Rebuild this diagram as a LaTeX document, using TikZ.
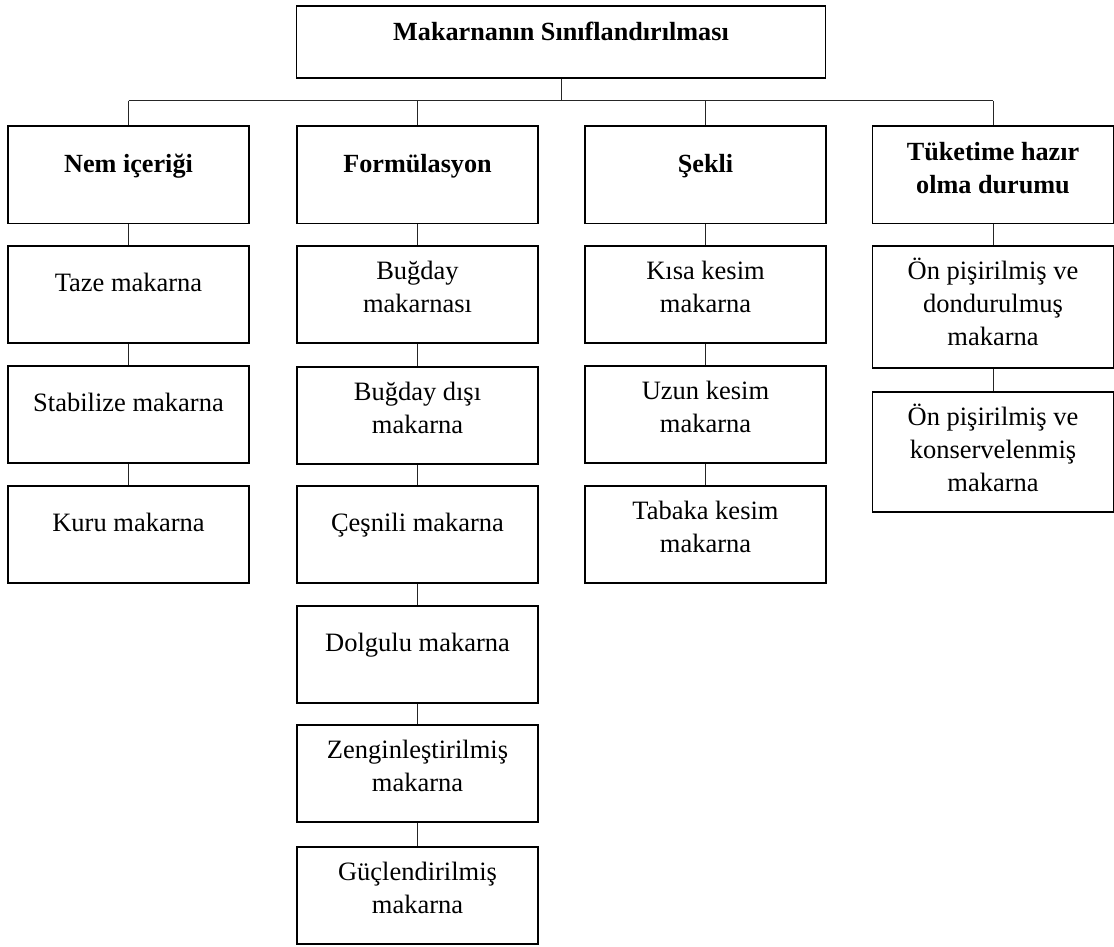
\documentclass[tikz,border=0pt]{standalone}
\usepackage{fontspec}
\setmainfont{Liberation Serif}
\usetikzlibrary{calc}
\tikzset{
  box/.style={draw, line width=1.9pt, minimum width=241pt, minimum height=97pt, inner sep=0pt, anchor=north},
  wire/.style={line width=1pt, draw=black!85},
  txt/.style={anchor=base, inner sep=0pt, font=\fontsize{26.5pt}{33.4pt}\selectfont},
  head/.style={anchor=base, inner sep=0pt, font=\fontsize{26.2pt}{33.4pt}\selectfont\bfseries},
}
% centred multi-line text whose reference point is the first baseline
\newcommand\stack[1]{\parbox[t]{236pt}{\centering #1}}

\begin{document}
\begin{tikzpicture}[x=1pt,y=-1pt]
\useasboundingbox (0,0) rectangle (1114,947);

% root
\node[box, minimum width=529pt, minimum height=72pt] (root) at (561,5) {};
\node[head] (root-t) at ($(root.north)+(0,36)$) {Makarnanın Sınıflandırılması};

% column headers
\node[box] (nem)  at (128.5,125.5) {};
\node[box] (form) at (417.5,125.5) {};
\node[box] (sek)  at (705.5,125.5) {};
\node[box] (tuk)  at (993,125.5) {};
\node[head] (nem-t)  at ($(nem.north)+(0,47)$)  {Nem içeriği};
\node[head] (form-t) at ($(form.north)+(0,47)$) {Formülasyon};
\node[head] (sek-t)  at ($(sek.north)+(0,47)$)  {Şekli};
\node[head] (tuk-t)  at ($(tuk.north)+(0,35)$)  {\stack{Tüketime hazır\\olma durumu}};

% column 1
\node[box] (taze) at (128.5,245) {};
\node[box] (stab) at (128.5,365) {};
\node[box] (kuru) at (128.5,485) {};
\node[txt] (taze-t) at ($(taze.north)+(0,46.5)$) {Taze makarna};
\node[txt] (stab-t) at ($(stab.north)+(0,46.5)$) {Stabilize makarna};
\node[txt] (kuru-t) at ($(kuru.north)+(0,46.5)$) {Kuru makarna};

% column 2
\node[box] (bug)  at (417.5,245) {};
\node[box] (bugd) at (417.5,366) {};
\node[box] (cesn) at (417.5,485) {};
\node[box] (dolg) at (417.5,605) {};
\node[box] (zeng) at (417.5,724) {};
\node[box] (gucl) at (417.5,846) {};
\node[txt] (bug-t)  at ($(bug.north)+(0,34)$)  {\stack{Buğday\\makarnası}};
\node[txt] (bugd-t) at ($(bugd.north)+(0,34)$) {\stack{Buğday dışı\\makarna}};
\node[txt] (cesn-t) at ($(cesn.north)+(0,46.5)$) {Çeşnili makarna};
\node[txt] (dolg-t) at ($(dolg.north)+(0,46.5)$) {Dolgulu makarna};
\node[txt] (zeng-t) at ($(zeng.north)+(0,34)$) {\stack{Zenginleştirilmiş\\makarna}};
\node[txt] (gucl-t) at ($(gucl.north)+(0,34)$) {\stack{Güçlendirilmiş\\makarna}};

% column 3
\node[box] (kisa)  at (705.5,245) {};
\node[box] (uzun)  at (705.5,365) {};
\node[box] (tabak) at (705.5,485) {};
\node[txt] (kisa-t)  at ($(kisa.north)+(0,34)$)  {\stack{Kısa kesim\\makarna}};
\node[txt] (uzun-t)  at ($(uzun.north)+(0,34)$)  {\stack{Uzun kesim\\makarna}};
\node[txt] (tabak-t) at ($(tabak.north)+(0,34)$) {\stack{Tabaka kesim\\makarna}};

% column 4
\node[box, minimum height=122pt] (dond) at (993,245) {};
\node[box, minimum height=120pt] (kons) at (993,391) {};
\node[txt] (dond-t) at ($(dond.north)+(0,34)$) {\stack{Ön pişirilmiş ve\\dondurulmuş\\makarna}};
\node[txt] (kons-t) at ($(kons.north)+(0,34)$) {\stack{Ön pişirilmiş ve\\konservelenmiş\\makarna}};

% tree connectors
\coordinate (bus) at (0,100.7);
\draw[wire] (root.south) -- (root.south |- bus);
\draw[wire] (bus -| nem.north) -- (bus -| tuk.north);
\foreach \n in {nem,form,sek,tuk}
  \draw[wire] (bus -| \n.north) -- (\n.north);

\foreach \a/\b in {nem/taze,taze/stab,stab/kuru,
                   form/bug,bug/bugd,bugd/cesn,cesn/dolg,dolg/zeng,zeng/gucl,
                   sek/kisa,kisa/uzun,uzun/tabak,
                   tuk/dond,dond/kons}
  \draw[wire] (\a.south) -- (\b.north);
\end{tikzpicture}
\end{document}
